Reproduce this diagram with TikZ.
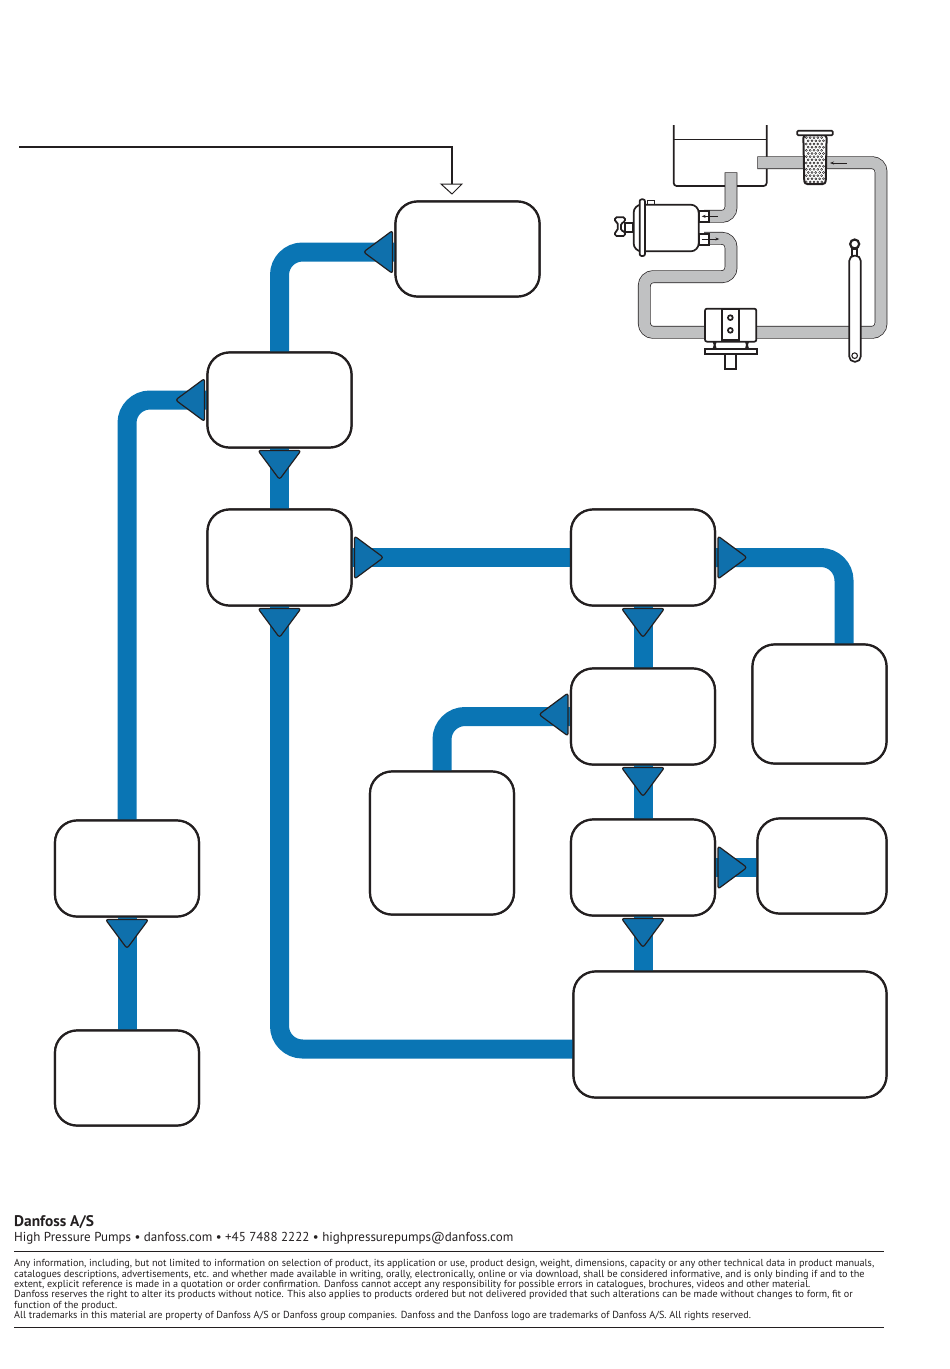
\documentclass[tikz,border=0pt]{standalone}
\usepackage{fontspec}
\setmainfont{PT Sans}
\usetikzlibrary{arrows.meta}
\definecolor{pipeblue}{HTML}{0A75B4}
\definecolor{tipblue}{HTML}{0F70AC}
\definecolor{ink}{HTML}{231F20}
\definecolor{hose}{HTML}{C0C1C2}
\tikzset{
  box/.style={draw=ink,line width=2.2pt,fill=white,rounded corners=22pt,inner sep=0pt,outer sep=0pt},
  pipe/.style={draw=pipeblue,line width=19pt,rounded corners=23pt},
  tipshape/.style={draw=ink,fill=tipblue,line width=1.2pt,rounded corners=2.5pt,line join=round},
  hoseout/.style={draw=ink,line width=12.8pt,rounded corners=9pt},
  hosein/.style={draw=hose,line width=11.4pt,rounded corners=9pt},
  part/.style={draw=ink,fill=white,line width=1.7pt},
  thin arrow/.style={draw=ink,line width=.7pt,-{Stealth[length=4pt,width=3pt]}},
  rule/.style={draw=ink,line width=.8pt}
}
\newcommand{\flowtip}[2]{\draw[shift={(#1)},rotate=#2,tipshape] (3,0) -- (3,21.5) -- (32,0) -- (3,-21.5) -- cycle;}
\begin{document}
\begin{tikzpicture}[x=1pt,y=-1pt]
\useasboundingbox (0,0) rectangle (950,1369);
% boxes (named first so that the pipes can refer to them)
\node[box,minimum width=144pt,minimum height=95pt] (A) at (467.5,249) {};
\node[box,minimum width=144pt,minimum height=95pt] (B) at (279.5,400) {};
\node[box,minimum width=144pt,minimum height=96pt] (C) at (279.5,557.5) {};
\node[box,minimum width=144pt,minimum height=96pt] (D) at (643,557.5) {};
\node[box,minimum width=134pt,minimum height=119pt] (E) at (819.5,704) {};
\node[box,minimum width=144pt,minimum height=96pt] (F) at (643,716.5) {};
\node[box,minimum width=144pt,minimum height=143pt] (G) at (442,843) {};
\node[box,minimum width=144pt,minimum height=96pt] (H) at (643,867.5) {};
\node[box,minimum width=129pt,minimum height=95pt] (I) at (822,866) {};
\node[box,minimum width=313pt,minimum height=126pt] (J) at (730,1034.5) {};
\node[box,minimum width=144pt,minimum height=96pt] (K) at (127,868.5) {};
\node[box,minimum width=144pt,minimum height=95pt] (L) at (127,1078) {};
% pipes
\draw[pipe] (B.north) |- ([yshift=-3pt]A.west);
\draw[pipe] (K.north) |- (B.west);
\draw[pipe] (L.north) -- (K.south);
\draw[pipe] (B.south) -- (C.north);
\draw[pipe] (C.south) |- ([yshift=-14.5pt]J.west);
\draw[pipe] (C.east) -- (D.west);
\draw[pipe] (D.east) -| ([xshift=24.5pt]E.north);
\draw[pipe] (D.south) -- (F.north);
\draw[pipe] (F.south) -- (H.north);
\draw[pipe] (H.south) -- (H.south |- J.north);
\draw[pipe] (H.east) -- (H.east -| I.west);
\draw[pipe] (G.north) |- (F.west);
% box outlines again, above the pipes
\foreach \n/\w/\h in {A/144/95,B/144/95,C/144/96,D/144/96,E/134/119,F/144/96,G/144/143,H/144/96,I/129/95,J/313/126,K/144/96,L/144/95}
  \node[box,minimum width=\w pt,minimum height=\h pt] at (\n) {};
% flow tips
\flowtip{[yshift=-3pt]A.west}{180}
\flowtip{B.west}{180}
\flowtip{B.south}{-90}
\flowtip{C.south}{-90}
\flowtip{C.east}{0}
\flowtip{D.east}{0}
\flowtip{D.south}{-90}
\flowtip{[yshift=2pt]F.west}{180}
\flowtip{F.south}{-90}
\flowtip{H.east}{0}
\flowtip{H.south}{-90}
\flowtip{K.south}{-90}
% callout
\coordinate (calloutstart) at (19,147);
\coordinate (calloutend) at (452,184);
\draw[ink,line width=1.3pt] (calloutstart) -| (calloutend);
\draw[ink,line width=1pt,fill=white] (441,184) -- (462,184) -- (452,194) -- cycle;
% schematic
\begin{scope}[shift={(600,110)},x=.33333pt,y=-.33333pt]
  % reservoir
  \draw[ink,line width=1.7pt,rounded corners=3pt] (221,45) -- (221,228) -- (500,228) -- (500,45);
  \draw[ink,line width=1.3pt] (223,88) -- (498,88);
  % hoses
  \draw[hoseout] (472,158) -- (843,158) -- (843,667) -- (133,667) -- (133,500) -- (393,500) -- (393,385) -- (312,385);
  \draw[hoseout] (393,187) -- (393,319) -- (312,319);
  \draw[hosein] (474,158) -- (843,158) -- (843,667) -- (133,667) -- (133,500) -- (393,500) -- (393,385) -- (312,385);
  \draw[hosein] (393,189) -- (393,319) -- (312,319);
  % filter
  \draw[part,line width=2pt,rounded corners=3pt] (610,75) -- (613,222) -- (677,222) -- (680,75) -- cycle;
  \foreach \r in {0,...,14}{
    \pgfmathsetmacro{\yy}{83+\r*9.5}
    \pgfmathsetmacro{\off}{mod(\r,2)*5.5}
    \foreach \c in {0,...,4}{
      \pgfmathsetmacro{\xx}{619+\c*11.5+\off}
      \fill[ink] (\xx,\yy) circle (1.35pt);
      \fill[white] (\xx,\yy) circle (.5pt);
    }
  }
  \draw[part,rounded corners=1pt] (592,62) rectangle (698,76);
  \draw[thin arrow] (740,159) -- (690,159);
  % pump
  \draw[part,line width=.8pt] (142,270) rectangle (163,283);
  \draw[part,rounded corners=8pt] (101,284) rectangle (296,424);
  \draw[part,rounded corners=2pt] (119,268) rectangle (135,438);
  \draw[part] (75,338) rectangle (100,367);
  \draw[part,rounded corners=1.5pt] (45,322) -- (75,322) -- (75,335) -- (63,340) -- (63,362) -- (75,365) -- (75,378) -- (45,378) -- (45,365) -- (53,362) -- (53,337) -- (45,335) -- cycle;
  \draw[part] (298,304) rectangle (326,335);
  \draw[part] (298,372) rectangle (326,405);
  \draw[thin arrow] (354,319) -- (305,319);
  \draw[thin arrow] (305,387) -- (358,387);
  % block with base
  \fill[ink] (338,695) -- (350,695) -- (347,705) -- (350,716) -- (338,716) -- (341,705) -- cycle;
  \fill[ink] (435,695) -- (447,695) -- (444,705) -- (447,716) -- (435,716) -- (438,705) -- cycle;
  \draw[part,rounded corners=2pt] (315,596) rectangle (469,695);
  \draw[ink,line width=1.9pt,fill=white] (365,597) rectangle (416,690);
  \draw[ink,line width=1.7pt,fill=white] (391,623) circle (2.4pt);
  \draw[ink,line width=1.7pt,fill=white] (391,661) circle (2.4pt);
  \draw[part,line width=2pt] (315,717) rectangle (471,731);
  \draw[part] (374,733) rectangle (408,778);
  % cylinder
  \draw[ink,line width=1.7pt,fill=white] (756,417) rectangle (772,438);
  \draw[part,rounded corners=5pt] (748,437) -- (782,437) -- (782,755) -- (748,755) -- cycle;
  \draw[ink,line width=2.2pt,fill=white] (764,402) circle (4.5pt);
  \draw[ink,line width=1.1pt,fill=white] (764,737) circle (2.8pt);
\end{scope}
% footer
\node[anchor=base west,inner sep=0pt,font=\fontsize{15.4}{16}\selectfont\bfseries,text=ink] (company) at (14,1226.5) {Danfoss A/S};
\node[anchor=base west,inner sep=0pt,font=\fontsize{13}{14}\selectfont,text=ink] (contact) at (14,1241.5) {High Pressure Pumps • danfoss.com • +45 7488 2222 • highpressurepumps@danfoss.com};
\coordinate (r1a) at (14,1251.5); \coordinate (r1b) at (884,1251.5);
\coordinate (r2a) at (14,1327); \coordinate (r2b) at (884,1327);
\draw[rule] (r1a) -- (r1b);
\draw[rule] (r2a) -- (r2b);
\node[anchor=north west,inner sep=0pt,align=left,font=\fontsize{10.2}{10.3}\selectfont,text=ink] (legal) at (14,1259.5) {Any information, including, but not limited to information on selection of product, its application or use, product design, weight, dimensions, capacity or any other technical data in product manuals,\\
catalogues descriptions, advertisements, etc. and whether made available in writing, orally, electronically, online or via download, shall be considered informative, and is only binding if and to the\\
extent, explicit reference is made in a quotation or order confirmation. Danfoss cannot accept any responsibility for possible errors in catalogues, brochures, videos and other material.\\
Danfoss reserves the right to alter its products without notice. This also applies to products ordered but not delivered provided that such alterations can be made without changes to form, fit or\\
function of the product.\\
All trademarks in this material are property of Danfoss A/S or Danfoss group companies. Danfoss and the Danfoss logo are trademarks of Danfoss A/S. All rights reserved.};
\end{tikzpicture}
\end{document}
